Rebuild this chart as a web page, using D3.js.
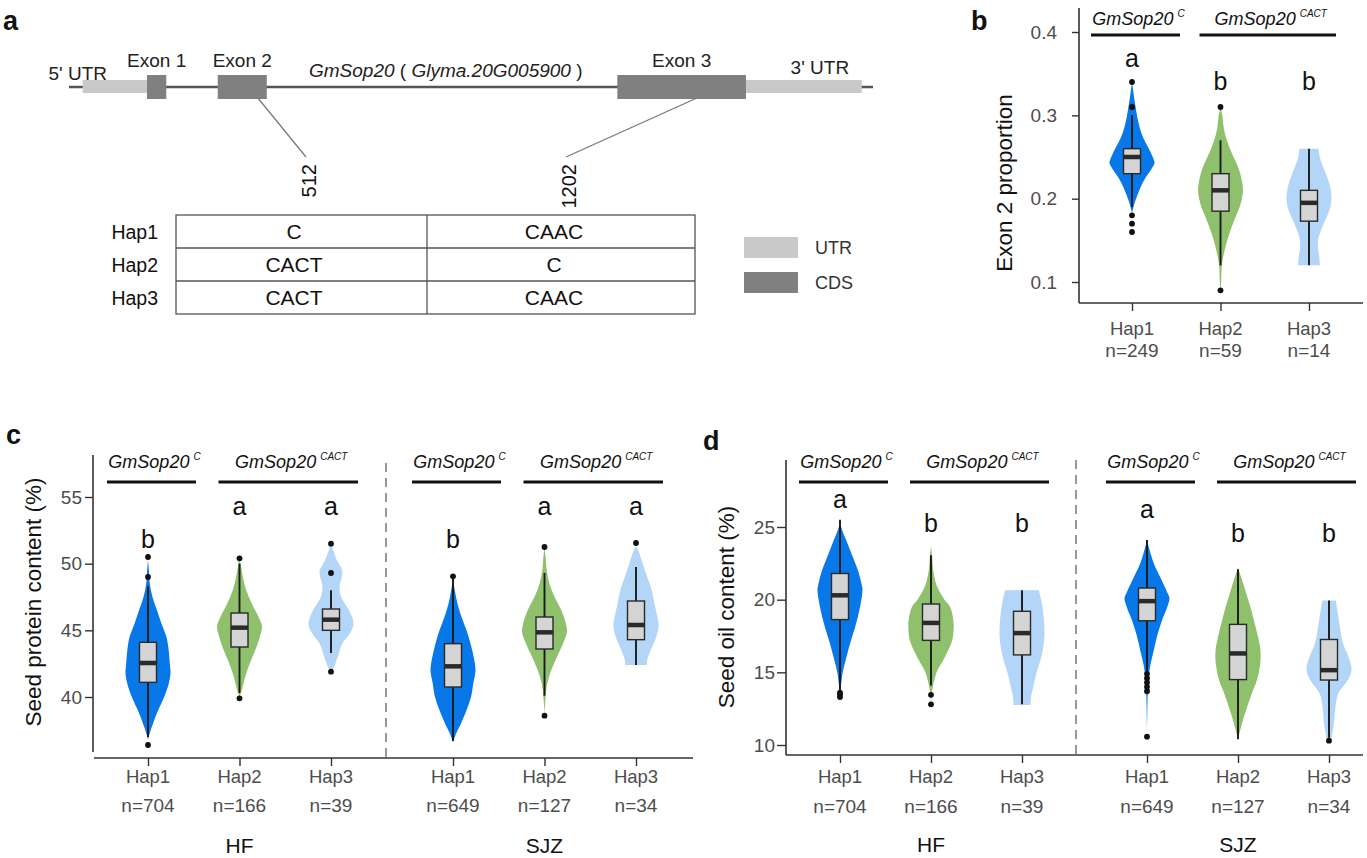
<!DOCTYPE html>
<html>
<head>
<meta charset="utf-8">
<script src="https://cdn.jsdelivr.net/npm/d3@7"></script>
<style>
body { margin: 0; background: #fff; }
svg { font-family: "Liberation Sans", Arial, sans-serif; }
</style>
</head>
<body>
<div id="fig"></div>
<script>
// ---- data ----
var haps = ["Hap1", "Hap2", "Hap3"];
var sites = ["HF", "SJZ"];
var hapColors = ["#0877e8", "#8fc06b", "#b3d5f7"];

// panel a: gene model (relative position along the gene, 0-1000)
var partNames = ["5' UTR", "Exon 1", "Exon 2", "Exon 3", "3' UTR"];
var partKinds = ["UTR", "CDS", "CDS", "CDS", "UTR"];
var partStart = [17, 97, 185, 682, 842];
var partEnd = [97, 121, 246, 842, 986];
var variantNames = ["512", "1202"];
var variantPos = [235, 781];
var tableCells = [["C", "CAAC"], ["CACT", "C"], ["CACT", "CAAC"]];
var legendNames = ["UTR", "CDS"];

// panel b: exon 2 proportion  (profile = [value, relative half width])
var nExon = ["n=249", "n=59", "n=14"];
var exonLetters = ["a", "b", "b"];
var exonViolins = [
  [[0.34,0],[0.33,0.05],[0.32,0.1],[0.31,0.16],[0.30,0.22],[0.29,0.3],[0.28,0.4],[0.27,0.55],[0.26,0.75],[0.25,0.92],[0.243,1],[0.235,0.85],[0.225,0.6],[0.215,0.4],[0.205,0.25],[0.195,0.12],[0.187,0.04],[0.183,0]],
  [[0.31,0],[0.30,0.08],[0.29,0.12],[0.28,0.18],[0.27,0.28],[0.26,0.42],[0.25,0.58],[0.24,0.75],[0.23,0.88],[0.22,0.96],[0.21,1],[0.20,0.95],[0.19,0.85],[0.18,0.7],[0.17,0.55],[0.16,0.42],[0.15,0.3],[0.14,0.2],[0.13,0.12],[0.12,0.06],[0.10,0.03],[0.09,0]],
  [[0.26,0.42],[0.25,0.48],[0.24,0.6],[0.23,0.75],[0.22,0.88],[0.21,0.97],[0.20,1],[0.19,0.95],[0.18,0.82],[0.17,0.65],[0.16,0.5],[0.15,0.4],[0.14,0.4],[0.13,0.46],[0.12,0.48]]
];
var exonBoxes = [[0.19,0.23,0.25,0.26,0.30],[0.12,0.185,0.21,0.23,0.27],[0.12,0.173,0.195,0.21,0.26]];
var exonOutliers = [[0.34,0.31,0.18,0.17,0.16],[0.31,0.09],[]];

// panel c: seed protein content (%)
var nProtein = [["n=704", "n=166", "n=39"], ["n=649", "n=127", "n=34"]];
var proteinLetters = ["b", "a", "a"];
var proteinViolins = [
  [
    [[50.3,0],[49.5,0.04],[48.5,0.08],[47.5,0.2],[46.5,0.4],[45.5,0.6],[44.5,0.82],[43.5,0.92],[42.5,0.97],[41.8,1],[41,0.92],[40,0.72],[39,0.45],[38,0.22],[37.3,0.08],[36.8,0]],
    [[50.4,0],[50,0.05],[49,0.15],[48,0.3],[47,0.55],[46,0.85],[45.3,1],[44.5,0.9],[43.5,0.7],[42.5,0.45],[41.5,0.25],[40.5,0.1],[40,0]],
    [[51.5,0],[51,0.1],[50.3,0.25],[49.5,0.5],[49,0.48],[48.3,0.38],[47.5,0.45],[46.5,0.8],[45.5,1],[44.8,0.85],[44,0.5],[43,0.3],[42.2,0.12],[41.8,0]]
  ],
  [
    [[49,0],[48,0.08],[47,0.2],[46,0.38],[45,0.6],[44,0.78],[43,0.92],[42,1],[41,0.9],[40,0.8],[39,0.6],[38,0.35],[37.3,0.15],[36.6,0]],
    [[51.2,0],[50.5,0.05],[49.5,0.1],[48.5,0.22],[47.5,0.45],[46.5,0.75],[45.5,0.95],[44.9,1],[44,0.82],[43,0.55],[42,0.3],[41,0.12],[40,0.05],[39.3,0.02],[38.8,0]],
    [[51.3,0],[51,0.1],[50,0.3],[49,0.5],[48,0.7],[47,0.82],[46,0.95],[45.3,1],[44.5,0.9],[43.5,0.65],[42.8,0.5],[42.4,0.48]]
  ]
];
var proteinBoxes = [
  [[37,41.1,42.55,44.1,48.3],[40.3,43.75,45.2,46.3,50],[43.3,45,45.8,46.6,48]],
  [[36.7,40.75,42.3,44,48.9],[40.1,43.6,44.85,46,49.3],[42.4,44.3,45.4,47.2,49.75]]
];
var proteinOutliers = [
  [[50.5,49,36.4],[50.4,39.9],[51.5,49.3,41.9]],
  [[49.05],[51.25,38.6],[51.55]]
];

// panel d: seed oil content (%)
var nOil = [["n=704", "n=166", "n=39"], ["n=649", "n=127", "n=34"]];
var oilLetters = ["a", "b", "b"];
var oilViolins = [
  [
    [[25.5,0],[25,0.05],[24,0.3],[23,0.55],[22,0.8],[21,0.97],[20.7,1],[20,0.95],[19,0.82],[18,0.65],[17,0.45],[16,0.28],[15,0.12],[14,0.04],[13.3,0]],
    [[23.7,0],[23,0.05],[22,0.1],[21,0.25],[20,0.6],[19.5,0.85],[18.5,1],[17.5,0.98],[17,0.9],[16,0.6],[15,0.25],[14,0.08],[13.5,0.03],[12.8,0]],
    [[20.65,0.75],[20,0.85],[19,0.95],[18,1],[17,0.97],[16,0.85],[15,0.65],[14,0.5],[13.3,0.4],[12.75,0.38]]
  ],
  [
    [[24.1,0],[23.5,0.1],[22.5,0.3],[21.5,0.6],[20.5,0.9],[20.1,1],[19.5,0.9],[18.5,0.65],[17.5,0.45],[16.5,0.3],[15.5,0.15],[14.5,0.06],[13.5,0.03],[12,0.01],[11,0]],
    [[22.2,0],[21.5,0.15],[20.5,0.35],[19.5,0.55],[18.5,0.72],[17.5,0.88],[16.5,1],[15.5,0.98],[14.5,0.85],[13.5,0.6],[12.5,0.38],[11.5,0.18],[10.4,0]],
    [[19.95,0.3],[19,0.4],[18,0.5],[17,0.62],[16,0.88],[15.2,1],[14.5,0.85],[13.5,0.4],[12.5,0.28],[11.5,0.22],[10.8,0.15],[10.3,0.1]]
  ]
];
var oilBoxes = [
  [[13.8,18.63,20.3,21.8,25.5],[14.1,17.2,18.4,19.7,23.05],[12.8,16.2,17.7,19.2,20.65]],
  [[15,18.55,19.9,20.8,24.1],[10.4,14.5,16.3,18.3,22.1],[10.5,14.47,15.15,17.26,19.95]]
];
var oilOutliers = [
  [[13.6,13.45,13.3],[13.45,12.8],[]],
  [[14.9,14.6,14.3,14.0,13.7,10.57],[],[10.3]]
];

// ---- drawing ----
var svg = d3.select("#fig").append("svg")
    .attr("width", 1367)
    .attr("height", 858);

var wScale = d3.scaleLinear().domain([0, 1]).range([0, 22.5]);

function panelLetter(t, x, y) {
    svg.append("text").attr("x", x).attr("y", y).text(t)
        .attr("font-size", 27).attr("font-weight", "bold").attr("fill", "#111");
}

// ---------- panel a ----------
panelLetter("a", 3, 30);
var genePos = d3.scaleLinear().domain([0, 1000]).range([69, 873]);

svg.append("line")
    .attr("x1", genePos(0)).attr("x2", genePos(1000))
    .attr("y1", 87).attr("y2", 87)
    .attr("stroke", "#555").attr("stroke-width", 2.5);

partNames.forEach(function(name, i) {
    var utr = partKinds[i] == "UTR";
    svg.append("rect")
        .attr("x", genePos(partStart[i]))
        .attr("width", genePos(partEnd[i]) - genePos(partStart[i]))
        .attr("y", utr ? 80 : 75)
        .attr("height", utr ? 13 : 24)
        .attr("fill", utr ? "#c9c9c9" : "#808080");
    var cx = (genePos(partStart[i]) + genePos(partEnd[i])) / 2;
    var dx = 0, ly = 67;
    if (i == 0) { dx = -37; ly = 80; }
    if (i == 4) { dx = 16; ly = 74; }
    svg.append("text").attr("x", cx + dx).attr("y", ly)
        .attr("text-anchor", "middle").attr("font-size", 19).attr("fill", "#222")
        .text(name);
});

var geneLabel = svg.append("text").attr("x", 309).attr("y", 77)
    .attr("font-size", 19).attr("fill", "#222");
geneLabel.append("tspan").attr("font-style", "italic").text("GmSop20");
geneLabel.append("tspan").text(" ( ");
geneLabel.append("tspan").attr("font-style", "italic").text("Glyma.20G005900");
geneLabel.append("tspan").text(" )");

// table
var colEdges = [176, 427, 695];
var rowScale = d3.scaleBand().domain(haps).range([215, 314]);
var colCenter = [294, 554];
var tableTop = 157;

variantNames.forEach(function(v, j) {
    svg.append("line")
        .attr("x1", genePos(variantPos[j])).attr("y1", 98)
        .attr("x2", colCenter[j] + 12).attr("y2", tableTop)
        .attr("stroke", "#777").attr("stroke-width", 1.2);
    svg.append("text")
        .attr("transform", "translate(" + (colCenter[j] + 22) + ",164) rotate(-90)")
        .attr("text-anchor", "end").attr("font-size", 20).attr("fill", "#111")
        .text(v);
});

svg.append("rect").attr("x", colEdges[0]).attr("y", rowScale.range()[0])
    .attr("width", colEdges[2] - colEdges[0]).attr("height", rowScale.range()[1] - rowScale.range()[0])
    .attr("fill", "none").attr("stroke", "#555").attr("stroke-width", 1.3);
svg.append("line").attr("x1", colEdges[1]).attr("x2", colEdges[1])
    .attr("y1", rowScale.range()[0]).attr("y2", rowScale.range()[1])
    .attr("stroke", "#555").attr("stroke-width", 1.3);

haps.forEach(function(h, i) {
    var y0 = rowScale(h);
    if (i > 0) {
        svg.append("line").attr("x1", colEdges[0]).attr("x2", colEdges[2])
            .attr("y1", y0).attr("y2", y0)
            .attr("stroke", "#555").attr("stroke-width", 1.3);
    }
    var base = y0 + rowScale.bandwidth() / 2 + 7.5;
    svg.append("text").attr("x", 158).attr("y", base)
        .attr("text-anchor", "end").attr("font-size", 19.5).attr("fill", "#111").text(h);
    tableCells[i].forEach(function(c, j) {
        svg.append("text").attr("x", colCenter[j]).attr("y", base)
            .attr("text-anchor", "middle").attr("font-size", 21).attr("fill", "#111").text(c);
    });
});

// legend
legendNames.forEach(function(n, i) {
    svg.append("rect").attr("x", 744).attr("y", 237 + i * 35)
        .attr("width", 54).attr("height", 21)
        .attr("fill", i == 0 ? "#c9c9c9" : "#808080");
    svg.append("text").attr("x", 815).attr("y", 254 + i * 35)
        .attr("font-size", 18).attr("fill", "#333").text(n);
});

// ---------- violin helpers ----------
function drawViolins(x, y, profiles, boxes, outs) {
    haps.forEach(function(h, i) {
        var cx = x(h);
        var area = d3.area()
            .curve(d3.curveCatmullRom)
            .y(function(d) { return y(d[0]); })
            .x0(function(d) { return cx - wScale(d[1]); })
            .x1(function(d) { return cx + wScale(d[1]); });
        svg.append("path").datum(profiles[i])
            .attr("d", area)
            .attr("fill", hapColors[i]);
        var b = boxes[i];
        svg.append("line")
            .attr("x1", cx).attr("x2", cx)
            .attr("y1", y(b[0])).attr("y2", y(b[4]))
            .attr("stroke", "#1a1a1a").attr("stroke-width", 1.9);
        svg.append("rect")
            .attr("x", cx - 8.5).attr("width", 17)
            .attr("y", y(b[3])).attr("height", y(b[1]) - y(b[3]))
            .attr("fill", "#d4d4d4").attr("stroke", "#2a2a2a").attr("stroke-width", 1.4);
        svg.append("line")
            .attr("x1", cx - 8.5).attr("x2", cx + 8.5)
            .attr("y1", y(b[2])).attr("y2", y(b[2]))
            .attr("stroke", "#2a2a2a").attr("stroke-width", 4.5);
        svg.selectAll(null).data(outs[i]).enter().append("circle")
            .attr("cx", cx).attr("cy", function(d) { return y(d); })
            .attr("r", 2.9).attr("fill", "#111");
    });
}

function groupHeader(x, base, lineY) {
    var x1 = x("Hap1"), x2 = x("Hap2"), x3 = x("Hap3");
    var spans = [[x1 - 41, x1 + 48, "C"], [x2 - 21, x3 + 27, "CACT"]];
    spans.forEach(function(s) {
        svg.append("line").attr("x1", s[0]).attr("x2", s[1])
            .attr("y1", lineY).attr("y2", lineY)
            .attr("stroke", "#111").attr("stroke-width", 3);
        var t = svg.append("text").attr("x", (s[0] + s[1]) / 2 + 3).attr("y", base)
            .attr("text-anchor", "middle").attr("fill", "#111");
        t.append("tspan").attr("font-size", 18).attr("font-style", "italic").text("GmSop20");
        t.append("tspan").attr("font-size", 10).attr("font-style", "italic")
            .attr("dx", 4).attr("dy", -8).text(s[2]);
    });
}

function drawLetters(x, letters, ys) {
    haps.forEach(function(h, i) {
        svg.append("text").attr("x", x(h)).attr("y", ys[letters[i]])
            .attr("text-anchor", "middle").attr("font-size", 25).attr("fill", "#111")
            .text(letters[i]);
    });
}

function yAxis(y, ticks, fmt, xPos, yTop, yBottom, tickLen, pad) {
    var g = svg.append("g").attr("transform", "translate(" + xPos + ",0)")
        .call(d3.axisLeft(y).tickValues(ticks).tickFormat(fmt).tickSize(tickLen).tickPadding(pad));
    g.select(".domain").remove();
    g.selectAll(".tick line").attr("stroke", "#333").attr("stroke-width", 1.4);
    g.selectAll(".tick text").attr("font-size", 19).attr("fill", "#4d4d4d")
        .attr("font-family", "Liberation Sans, Arial, sans-serif");
    svg.append("line").attr("x1", xPos).attr("x2", xPos).attr("y1", yTop).attr("y2", yBottom)
        .attr("stroke", "#333").attr("stroke-width", 1.6);
}

function xTicks(x, yPos, tickLen) {
    var g = svg.append("g").attr("transform", "translate(0," + yPos + ")")
        .call(d3.axisBottom(x).tickSize(tickLen).tickFormat(""));
    g.select(".domain").remove();
    g.selectAll(".tick line").attr("stroke", "#333").attr("stroke-width", 1.4);
}

function xLabels(x, ns, hapBase, nBase) {
    haps.forEach(function(h, i) {
        svg.append("text").attr("x", x(h)).attr("y", hapBase)
            .attr("text-anchor", "middle").attr("font-size", 18.5).attr("fill", "#4d4d4d").text(h);
        svg.append("text").attr("x", x(h)).attr("y", nBase)
            .attr("text-anchor", "middle").attr("font-size", 19).attr("fill", "#4d4d4d").text(ns[i]);
    });
}

function yTitle(t, x, y) {
    svg.append("text").attr("transform", "translate(" + x + "," + y + ") rotate(-90)")
        .attr("text-anchor", "middle").attr("font-size", 22.5).attr("fill", "#111").text(t);
}

// ---------- panel b ----------
panelLetter("b", 971, 30);
var yB = d3.scaleLinear().domain([0.1, 0.4]).range([282, 32]);
var xB = d3.scalePoint().domain(haps).range([1132, 1309]);
yAxis(yB, [0.1, 0.2, 0.3, 0.4], d3.format(".1f"), 1079, 8, 303, 7, 15);
svg.append("line").attr("x1", 1079).attr("x2", 1363).attr("y1", 303).attr("y2", 303)
    .attr("stroke", "#333").attr("stroke-width", 1.6);
xTicks(xB, 303, 8);
xLabels(xB, nExon, 335, 357);
yTitle("Exon 2 proportion", 1012, 183);
groupHeader(xB, 25, 35);
drawLetters(xB, exonLetters, { a: 67, b: 90 });
drawViolins(xB, yB, exonViolins, exonBoxes, exonOutliers);

// ---------- panel c ----------
panelLetter("c", 6, 444);
var yC = d3.scaleLinear().domain([40, 55]).range([697, 497]);
var xC = [
    d3.scalePoint().domain(haps).range([148, 331]),
    d3.scalePoint().domain(haps).range([453, 636])
];
yAxis(yC, [40, 45, 50, 55], d3.format("d"), 93, 455, 752, 8, 3);
svg.append("line").attr("x1", 94).attr("x2", 693).attr("y1", 758).attr("y2", 758)
    .attr("stroke", "#333").attr("stroke-width", 1.6);
svg.append("line").attr("x1", 386).attr("x2", 386).attr("y1", 463).attr("y2", 758)
    .attr("stroke", "#777").attr("stroke-width", 1.5).attr("stroke-dasharray", "9,6");
yTitle("Seed protein content (%)", 41, 602);
sites.forEach(function(s, k) {
    xTicks(xC[k], 758, 8);
    xLabels(xC[k], nProtein[k], 783, 812);
    svg.append("text").attr("x", xC[k]("Hap2")).attr("y", 853)
        .attr("text-anchor", "middle").attr("font-size", 21).attr("fill", "#111").text(s);
    groupHeader(xC[k], 468, 482);
    drawLetters(xC[k], proteinLetters, { a: 515, b: 548 });
    drawViolins(xC[k], yC, proteinViolins[k], proteinBoxes[k], proteinOutliers[k]);
});

// ---------- panel d ----------
panelLetter("d", 703, 450);
var yD = d3.scaleLinear().domain([10, 25]).range([745, 527]);
var xD = [
    d3.scalePoint().domain(haps).range([840, 1022]),
    d3.scalePoint().domain(haps).range([1147, 1329])
];
yAxis(yD, [10, 15, 20, 25], d3.format("d"), 786, 460, 755, 9, 2);
svg.append("line").attr("x1", 786).attr("x2", 1363).attr("y1", 755).attr("y2", 755)
    .attr("stroke", "#333").attr("stroke-width", 1.6);
svg.append("line").attr("x1", 1076).attr("x2", 1076).attr("y1", 460).attr("y2", 755)
    .attr("stroke", "#777").attr("stroke-width", 1.5).attr("stroke-dasharray", "9,6");
yTitle("Seed oil content (%)", 734, 607);
var oilLetterY = [{ a: 508, b: 532 }, { a: 518, b: 542 }];
sites.forEach(function(s, k) {
    xTicks(xD[k], 755, 8);
    xLabels(xD[k], nOil[k], 783, 813);
    svg.append("text").attr("x", xD[k]("Hap2")).attr("y", 852)
        .attr("text-anchor", "middle").attr("font-size", 21).attr("fill", "#111").text(s);
    groupHeader(xD[k], 468, 482);
    drawLetters(xD[k], oilLetters, oilLetterY[k]);
    drawViolins(xD[k], yD, oilViolins[k], oilBoxes[k], oilOutliers[k]);
});
</script>
</body>
</html>
